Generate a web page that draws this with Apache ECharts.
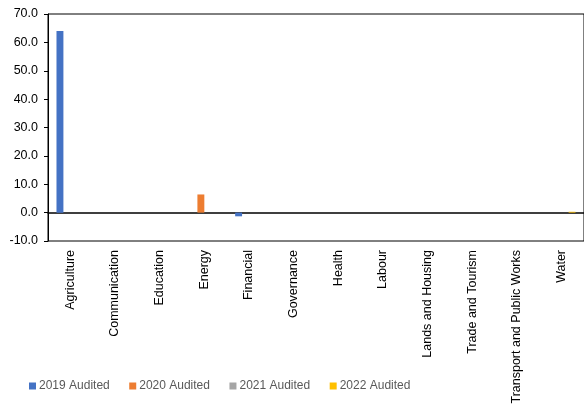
<!DOCTYPE html>
<html><head><meta charset="utf-8">
<script src="https://cdn.jsdelivr.net/npm/echarts@6/dist/echarts.min.js"></script>
<style>html,body{margin:0;padding:0;background:#fff}#c{width:584px;height:408px}</style>
</head><body><div id="c"></div>
<script>
const categories = ["Agriculture","Communication","Education","Energy","Financial","Governance","Health","Labour","Lands and Housing","Trade and Tourism","Transport and Public Works","Water"];
const seriesNames = ["2019 Audited","2020 Audited","2021 Audited","2022 Audited"];
const s2019 = [64.0,0,0,0,-1.3,0,0,0,0,0,0,0];
const s2020 = [0,0,0,6.4,0,0,0,0,0,0,0,0];
const s2021 = [0,0,0,0,0,0,0,0,0,0,0,0];
const s2022 = [0,0,0,0,0,0,0,0,0,0,0,0.3];
const colors = ["#4472C4","#ED7D31","#A5A5A5","#FFC000"];
const yTicks = {min:-10,max:70,interval:10};

const chart = echarts.init(document.getElementById('c'));
const font = 'Liberation Sans';
const data = [s2019,s2020,s2021,s2022];
chart.setOption({
  animation:false,
  color: colors,
  grid:{left:48,right:-4,top:14,bottom:167,show:true,borderColor:'#000',borderWidth:1,containLabel:false},
  legend:{bottom:11,left:24,itemWidth:7,itemHeight:7,itemGap:19.5,icon:'rect',
    textStyle:{fontFamily:font,fontSize:12,color:'#595959',padding:[0,0,0,-2]},
    data:seriesNames},
  xAxis:[{type:'category',data:categories,position:'bottom',
    axisLine:{show:false,onZero:false},axisTick:{show:false},
    axisLabel:{rotate:90,interval:0,margin:9,fontFamily:font,fontSize:12.5,color:'#000'}},
   {type:'category',data:categories,axisLine:{show:true,onZero:true,lineStyle:{color:'#000',width:1.5}},
    axisTick:{show:false},axisLabel:{show:false}}],
  yAxis:{type:'value',min:yTicks.min,max:yTicks.max,interval:yTicks.interval,
    axisLine:{show:true,lineStyle:{color:'#000'}},
    axisTick:{show:true,length:4,lineStyle:{color:'#000'}},
    splitLine:{show:false},
    axisLabel:{formatter:v=>v.toFixed(1),fontFamily:font,fontSize:12.5,color:'#000',margin:10}},
  series: seriesNames.map((n,i)=>({name:n,type:'bar',xAxisIndex:0,data:data[i],barGap:'0%',barCategoryGap:'38%'}))
});
</script></body></html>
